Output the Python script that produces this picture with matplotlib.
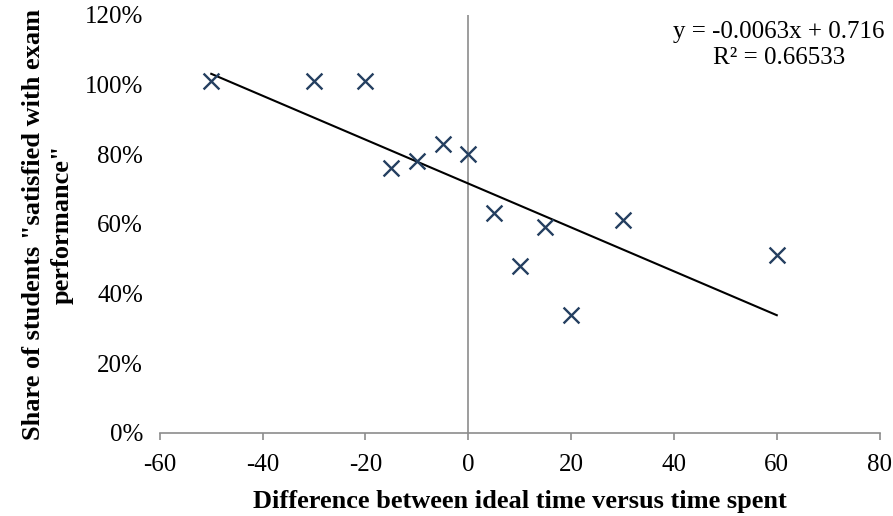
import numpy as np
import matplotlib.pyplot as plt
from matplotlib.ticker import FuncFormatter

# data
diff_time = [-50, -30, -20, -15, -10, -5, 0, 5, 10, 15, 20, 30, 60]
share_satisfied = [1.01, 1.01, 1.01, 0.76, 0.78, 0.83, 0.80, 0.63, 0.48, 0.59, 0.34, 0.61, 0.51]

# trendline as given on the chart
slope = -0.0063
intercept = 0.716
r2_text = "0.66533"

plt.rcParams['font.family'] = ['Liberation Serif', 'DejaVu Serif']
plt.rcParams['axes.unicode_minus'] = False

fig = plt.figure(figsize=(8.93, 5.16), dpi=100)
ax = fig.add_axes([0.179, 0.161, 0.806, 0.81])

mark_col = '#243F60'
ax.scatter(diff_time, share_satisfied, marker='x', s=130, color=mark_col, linewidths=1.7, zorder=3)

# linear trendline over the data range
xs = np.array([min(diff_time), max(diff_time)])
ax.plot(xs, slope * xs + intercept, color='black', lw=1.5, zorder=2)

ax.axvline(0, color='#8c8c8c', lw=1.2, zorder=1)

ax.set_xlim(-60, 80)
ax.set_ylim(0, 1.2)
ax.set_xticks(np.arange(-60, 81, 20))
ax.set_yticks(np.arange(0, 1.21, 0.2))
ax.yaxis.set_major_formatter(FuncFormatter(lambda v, p: f'{v*100:.0f}%'))
ax.xaxis.set_major_formatter(FuncFormatter(lambda v, p: f'{v:.0f}'))

for s in ['top', 'right', 'left']:
    ax.spines[s].set_visible(False)
ax.spines['bottom'].set_color('#8c8c8c')
ax.spines['bottom'].set_linewidth(1.2)
ax.tick_params(axis='x', colors='#8c8c8c', length=5, width=1.2, labelcolor='black', labelsize=18, pad=10)
ax.tick_params(axis='y', length=0, labelsize=18, pad=12)

ax.set_xlabel('Difference between ideal time versus time spent', fontsize=19, fontweight='bold', labelpad=10)
ax.set_ylabel('Share of students "satisfied with exam\nperformance"', fontsize=19, fontweight='bold',
              labelpad=8, linespacing=1.3)

ax.text(0.86, 0.985, f'y = {slope}x + {intercept}\nR² = {r2_text}', transform=ax.transAxes,
        ha='center', va='top', fontsize=18, linespacing=1.25)

fig.savefig('out.png', dpi=100)
